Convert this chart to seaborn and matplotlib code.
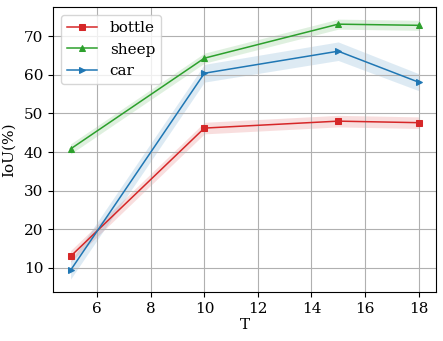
import matplotlib
matplotlib.use("Agg")
import matplotlib.pyplot as plt
import pandas as pd
import seaborn as sns
import numpy as np

T = [5, 10, 15, 18]
bottle = [13.0, 46.2, 48.0, 47.6]
sheep = [40.8, 64.3, 73.1, 72.8]
car = [9.4, 60.4, 66.1, 58.1]
bottle_err = [1.5, 1.5, 1.5, 1.5]
sheep_err = [1.3, 1.3, 1.3, 1.3]
car_err = [2.3, 2.3, 2.4, 2.2]


def main():
    plt.rcParams['font.family'] = ['DejaVu Serif']
    plt.rcParams['font.size'] = 11

    fig = plt.figure(figsize=(4.43, 3.41), dpi=100)
    ax = fig.add_axes([0.12, 0.144, 0.864, 0.835])

    series = [('bottle', bottle, bottle_err, 'tab:red', 's'),
              ('sheep', sheep, sheep_err, 'tab:green', '^'),
              ('car', car, car_err, 'tab:blue', '>')]
    for name, vals, err, color, marker in series:
        df = pd.DataFrame({'T': T, 'IoU': vals})
        sns.lineplot(data=df, x='T', y='IoU', ax=ax, color=color, marker=marker,
                     markersize=5, markeredgecolor=color, linewidth=1.1, label=name)
        lo = np.array(vals) - np.array(err)
        hi = np.array(vals) + np.array(err)
        ax.fill_between(T, lo, hi, color=color, alpha=0.15, linewidth=0)

    ax.set_xlim(4.35, 18.65)
    ax.set_ylim(3.8, 77.5)
    ax.set_xticks([6, 8, 10, 12, 14, 16, 18])
    ax.set_yticks([10, 20, 30, 40, 50, 60, 70])
    ax.grid(True, color='#b0b0b0', linewidth=0.8)
    ax.set_xlabel('T', labelpad=2)
    ax.set_ylabel('IoU(%)', labelpad=6)
    ax.legend(loc='upper left', fontsize=11, labelspacing=0.5)

    fig.savefig('out.png', dpi=100)


if __name__ == "__main__":
    main()
